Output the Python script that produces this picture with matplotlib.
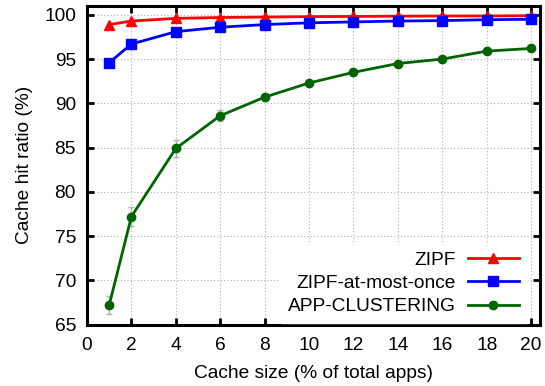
import matplotlib.pyplot as plt

plt.rcParams['font.family'] = ['Liberation Sans', 'DejaVu Sans']

cache_size = [1, 2, 4, 6, 8, 10, 12, 14, 16, 18, 20]
zipf = [98.9, 99.3, 99.6, 99.7, 99.75, 99.8, 99.82, 99.85, 99.87, 99.88, 99.9]
zipf_once = [94.6, 96.7, 98.1, 98.6, 98.9, 99.1, 99.2, 99.3, 99.35, 99.45, 99.5]
app_clustering = [67.2, 77.2, 84.9, 88.6, 90.7, 92.3, 93.5, 94.5, 95.0, 95.9, 96.2]
app_err = [1.0, 1.1, 1.0, 0.6, 0.3, 0.2, 0.15, 0.15, 0.15, 0.15, 0.15]

fig = plt.figure(figsize=(5.45, 3.86), dpi=100)
ax = fig.add_axes([87 / 545, 1 - 324.5 / 386, (540 - 87) / 545, (324.5 - 6) / 386])

ax.plot(cache_size, zipf, color="red", marker="^", markersize=7, linewidth=2, label="ZIPF")
ax.plot(cache_size, zipf_once, color="blue", marker="s", markersize=6.5, linewidth=2,
        label="ZIPF-at-most-once")
# error bars first, then the line on top (keeps the legend entry plain)
ax.errorbar(cache_size, app_clustering, yerr=app_err, fmt="none", ecolor="#b0b0b0",
            elinewidth=1, capsize=2.5)
ax.plot(cache_size, app_clustering, color="#006400", marker="o", markersize=6,
        linewidth=2, label="APP-CLUSTERING")

ax.set_xlim(0, 20.4)
ax.set_ylim(65, 101)
ax.set_xticks(range(0, 21, 2))
ax.set_yticks(range(65, 101, 5))

ax.grid(True, linestyle=(0, (1, 2)), color="#b0b0b0", linewidth=0.8)
ax.set_axisbelow(True)

for spine in ax.spines.values():
    spine.set_linewidth(2.2)

ax.tick_params(direction="in", length=5, width=2, labelsize=13.8, top=True, right=True, pad=8)
ax.tick_params(axis="x", pad=9)

ax.set_xlabel("Cache size (% of total apps)", fontsize=13.8, labelpad=8)
ax.set_ylabel("Cache hit ratio (%)", fontsize=13.8, labelpad=8)

leg = ax.legend(loc="lower right", bbox_to_anchor=(1 - 13 / 453, 0.005), markerfirst=False,
                fontsize=13.8, frameon=True, framealpha=1, edgecolor="white",
                facecolor="white", handlelength=2.7, handletextpad=0.6, labelspacing=0.3,
                borderaxespad=0, borderpad=0.4, fancybox=False)

plt.savefig("out.png", dpi=100)
